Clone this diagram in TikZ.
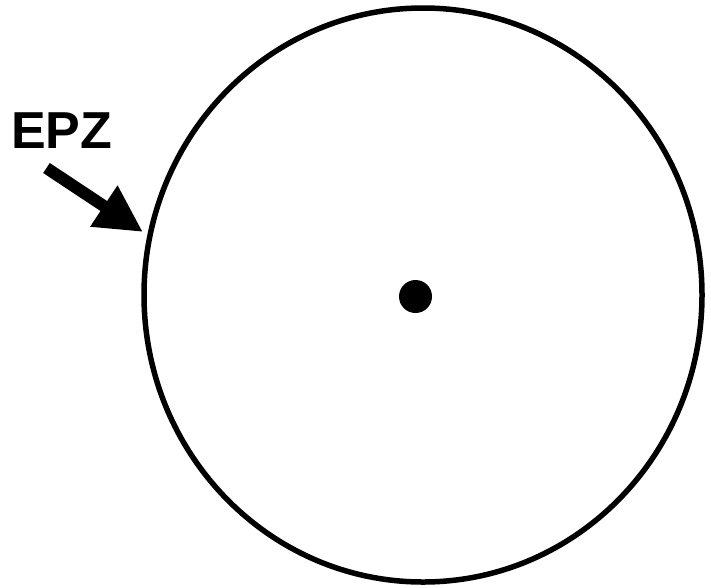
\documentclass[tikz,border=0pt]{standalone}
\usepackage{fontspec}
\setmainfont{Liberation Sans}
\usetikzlibrary{shapes.geometric,arrows.meta}
\tikzset{
  ring/.style={ellipse,draw=black,line width=5.5pt,inner sep=0pt,minimum width=558pt,minimum height=574pt},
  centredot/.style={circle,fill=black,inner sep=0pt,minimum size=33pt},
  biglabel/.style={inner sep=0pt,font=\fontsize{52pt}{52pt}\selectfont\bfseries},
  bigarrow/.style={line width=12pt,-{Triangle[length=47pt,width=46pt]}}
}
\begin{document}
\begin{tikzpicture}[x=1pt,y=-1pt]
\useasboundingbox (0,0) rectangle (711,587);
\node[ring] (zone) at (423,295) {};
\node[centredot] (centre) at (415.5,296.5) {};
\node[biglabel,anchor=base west] (epz) at (11,148) {EPZ};
\coordinate (tail) at (46.5,168);
\coordinate (tip) at (143,232);
\draw[bigarrow] (tail) -- (tip);
\end{tikzpicture}
\end{document}
